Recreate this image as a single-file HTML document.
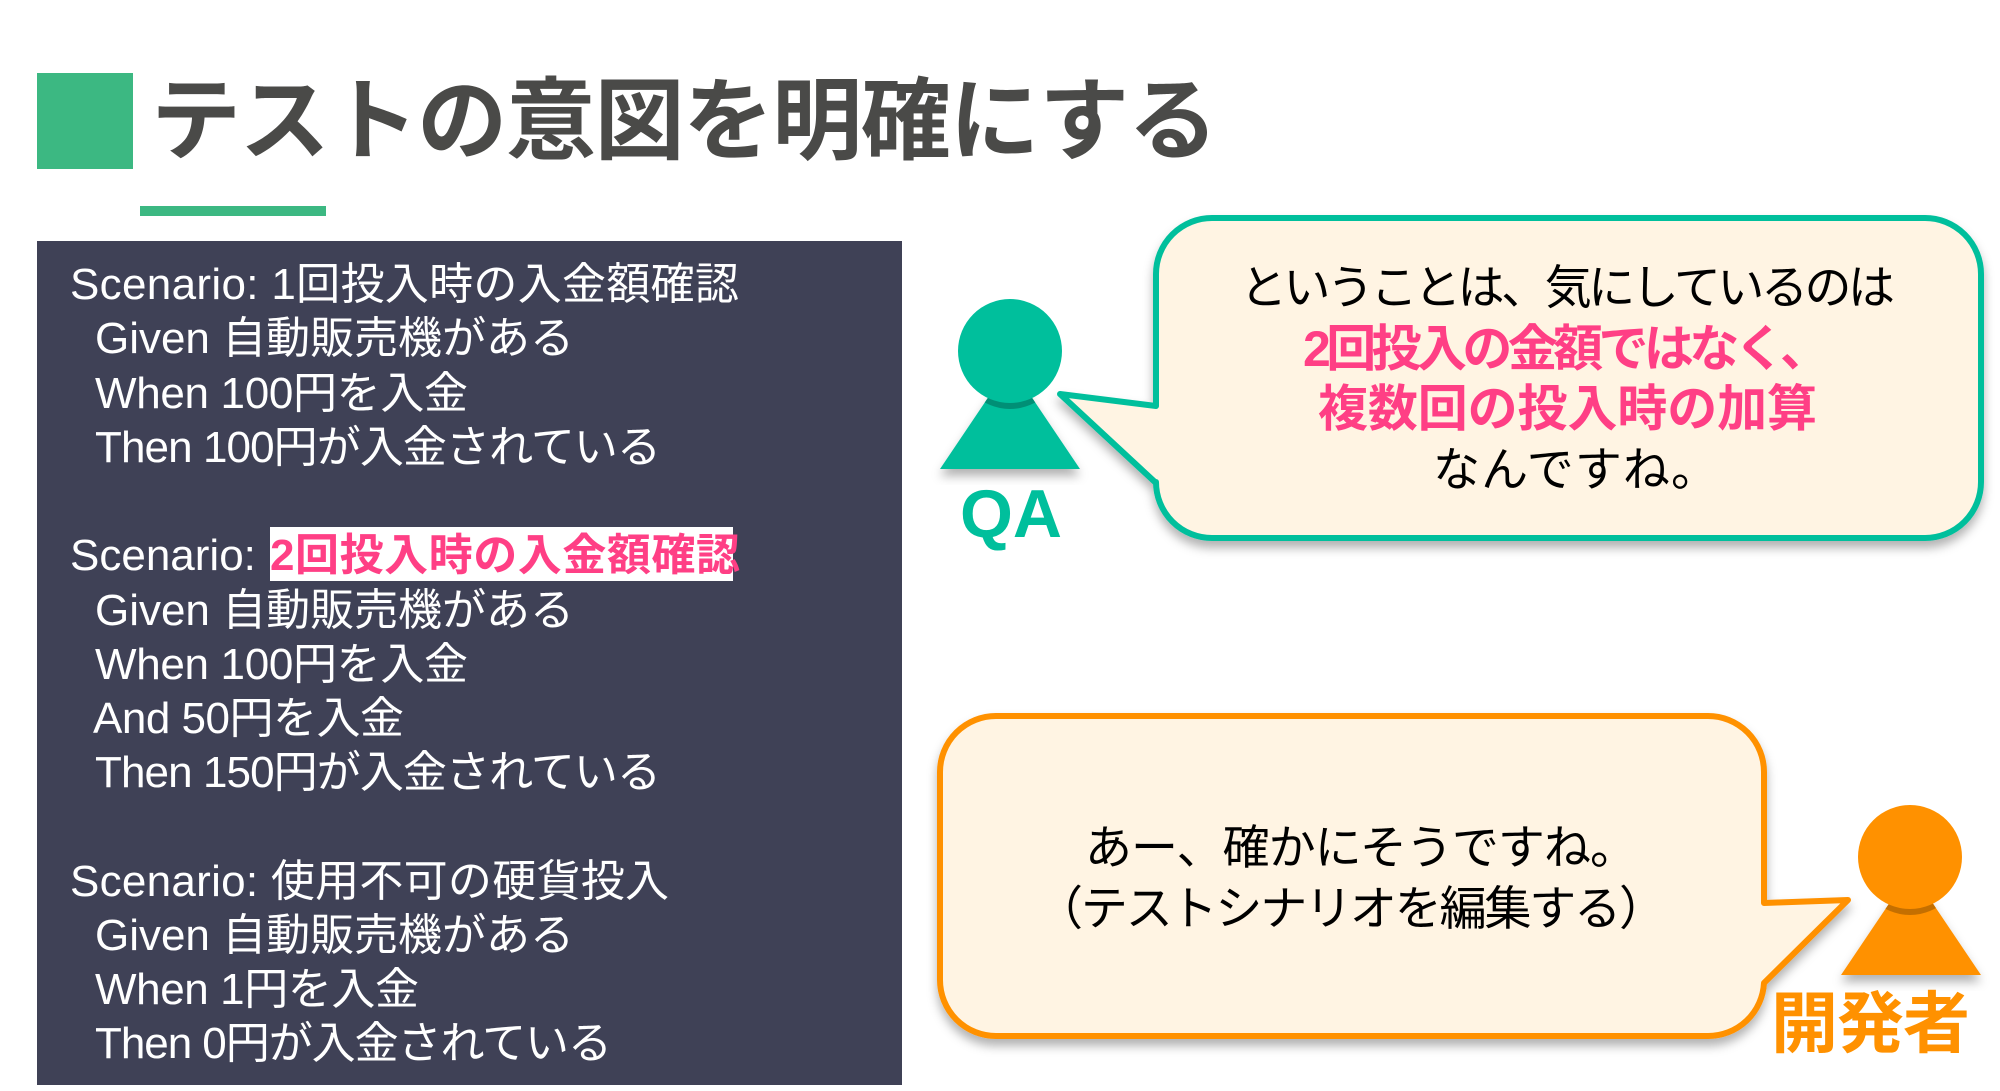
<!DOCTYPE html>
<html lang="ja"><head><meta charset="utf-8"><title>テストの意図を明確にする</title>
<style>
html,body{margin:0;padding:0;background:#fff;width:2000px;height:1091px;overflow:hidden}
svg{display:block}
text{font-family:"Liberation Sans","Noto Sans CJK JP",sans-serif}
.s{font-size:44px;fill:#fff}
.b{font-size:47px;fill:#000}
.p{font-size:50px;fill:#ff3f85;font-weight:700}
</style></head><body>
<svg width="2000" height="1091" viewBox="0 0 2000 1091" xmlns="http://www.w3.org/2000/svg">
<defs>
<filter id="sh" x="-10%" y="-10%" width="120%" height="125%"><feDropShadow dx="0" dy="7" stdDeviation="5" flood-color="#000" flood-opacity=".3"/></filter>
<clipPath id="c1"><path d="M1010,365L1080,469H940Z"/></clipPath>
<clipPath id="c2"><path d="M1911,871L1981,975H1841Z"/></clipPath>
</defs>
<rect x="37" y="73" width="96" height="96" fill="#3cb882"/>
<text x="151" y="152" font-size="90" font-weight="700" fill="#4a4a48" textLength="1067" lengthAdjust="spacing">テストの意図を明確にする</text>
<rect x="140" y="206" width="186" height="10" fill="#3cb882"/>
<rect x="37" y="241" width="865" height="844" fill="#3f4156"/>
<rect x="270" y="527" width="463" height="54" fill="#fff"/>
<g class="s">
<text class="s" x="70" y="299" textLength="669" lengthAdjust="spacing">Scenario: 1回投入時の入金額確認</text>
<text class="s" x="95" y="353" textLength="479" lengthAdjust="spacing">Given 自動販売機がある</text>
<text class="s" x="95" y="408" textLength="373" lengthAdjust="spacing">When 100円を入金</text>
<text class="s" x="95" y="462" textLength="566" lengthAdjust="spacing">Then 100円が入金されている</text>
<text class="s" x="70" y="570">Scenario:</text>
<text x="270" y="570" font-size="44" font-weight="700" fill="#ff3f85" textLength="470" lengthAdjust="spacing">2回投入時の入金額確認</text>
<text class="s" x="95" y="625" textLength="479" lengthAdjust="spacing">Given 自動販売機がある</text>
<text class="s" x="95" y="679" textLength="373" lengthAdjust="spacing">When 100円を入金</text>
<text class="s" x="93" y="733" textLength="311" lengthAdjust="spacing">And 50円を入金</text>
<text class="s" x="95" y="787" textLength="566" lengthAdjust="spacing">Then 150円が入金されている</text>
<text class="s" x="70" y="896" textLength="599" lengthAdjust="spacing">Scenario: 使用不可の硬貨投入</text>
<text class="s" x="95" y="950" textLength="479" lengthAdjust="spacing">Given 自動販売機がある</text>
<text class="s" x="95" y="1004" textLength="324" lengthAdjust="spacing">When 1円を入金</text>
<text class="s" x="95" y="1058" textLength="517" lengthAdjust="spacing">Then 0円が入金されている</text>
</g>
<!-- QA person -->
<path d="M1010,365L1080,469H940Z" fill="#00bf9c" filter="url(#sh)"/>
<ellipse cx="1010" cy="357" rx="52" ry="52" fill="#008f76" clip-path="url(#c1)"/>
<circle cx="1010" cy="351" r="52" fill="#00bf9c"/>
<text x="1011" y="537" font-size="68" font-weight="700" fill="#00bf9c" text-anchor="middle">QA</text>
<!-- bubble 1 -->
<path d="M1212,218H1925A56,56 0 0 1 1981,274V482A56,56 0 0 1 1925,538H1212A56,56 0 0 1 1156,482Q1156,483 1156,483L1060,394L1156,406V274A56,56 0 0 1 1212,218Z" fill="#fff4e3" stroke="#00bf9c" stroke-width="6" stroke-linejoin="round" filter="url(#sh)"/>
<text class="b" x="1240" y="304" textLength="655" lengthAdjust="spacing">ということは、気にしているのは</text>
<text class="p" x="1303" y="366" textLength="527" lengthAdjust="spacing">2回投入の金額ではなく、</text>
<text class="p" x="1318" y="426" textLength="499" lengthAdjust="spacing">複数回の投入時の加算</text>
<text class="b" x="1433" y="486" textLength="285" lengthAdjust="spacing">なんですね。</text>
<!-- dev person -->
<path d="M1911,871L1981,975H1841Z" fill="#ff9100" filter="url(#sh)"/>
<ellipse cx="1910" cy="863" rx="52" ry="52" fill="#c46f00" clip-path="url(#c2)"/>
<circle cx="1910" cy="857" r="52" fill="#ff9100"/>
<text x="1771" y="1047" font-size="67" font-weight="700" fill="#ff9100" textLength="199" lengthAdjust="spacing">開発者</text>
<!-- bubble 2 -->
<path d="M996,716H1708A56,56 0 0 1 1764,772V903L1848,900L1764,983A56,56 0 0 1 1708,1036H996A56,56 0 0 1 940,980V772A56,56 0 0 1 996,716Z" fill="#fff4e3" stroke="#ff9100" stroke-width="6" stroke-linejoin="round" filter="url(#sh)"/>
<text class="b" x="1085" y="864" textLength="552" lengthAdjust="spacing">あー、確かにそうですね。</text>
<text class="b" x="1036" y="925" textLength="630" lengthAdjust="spacing">（テストシナリオを編集する）</text>
</svg>
</body></html>
